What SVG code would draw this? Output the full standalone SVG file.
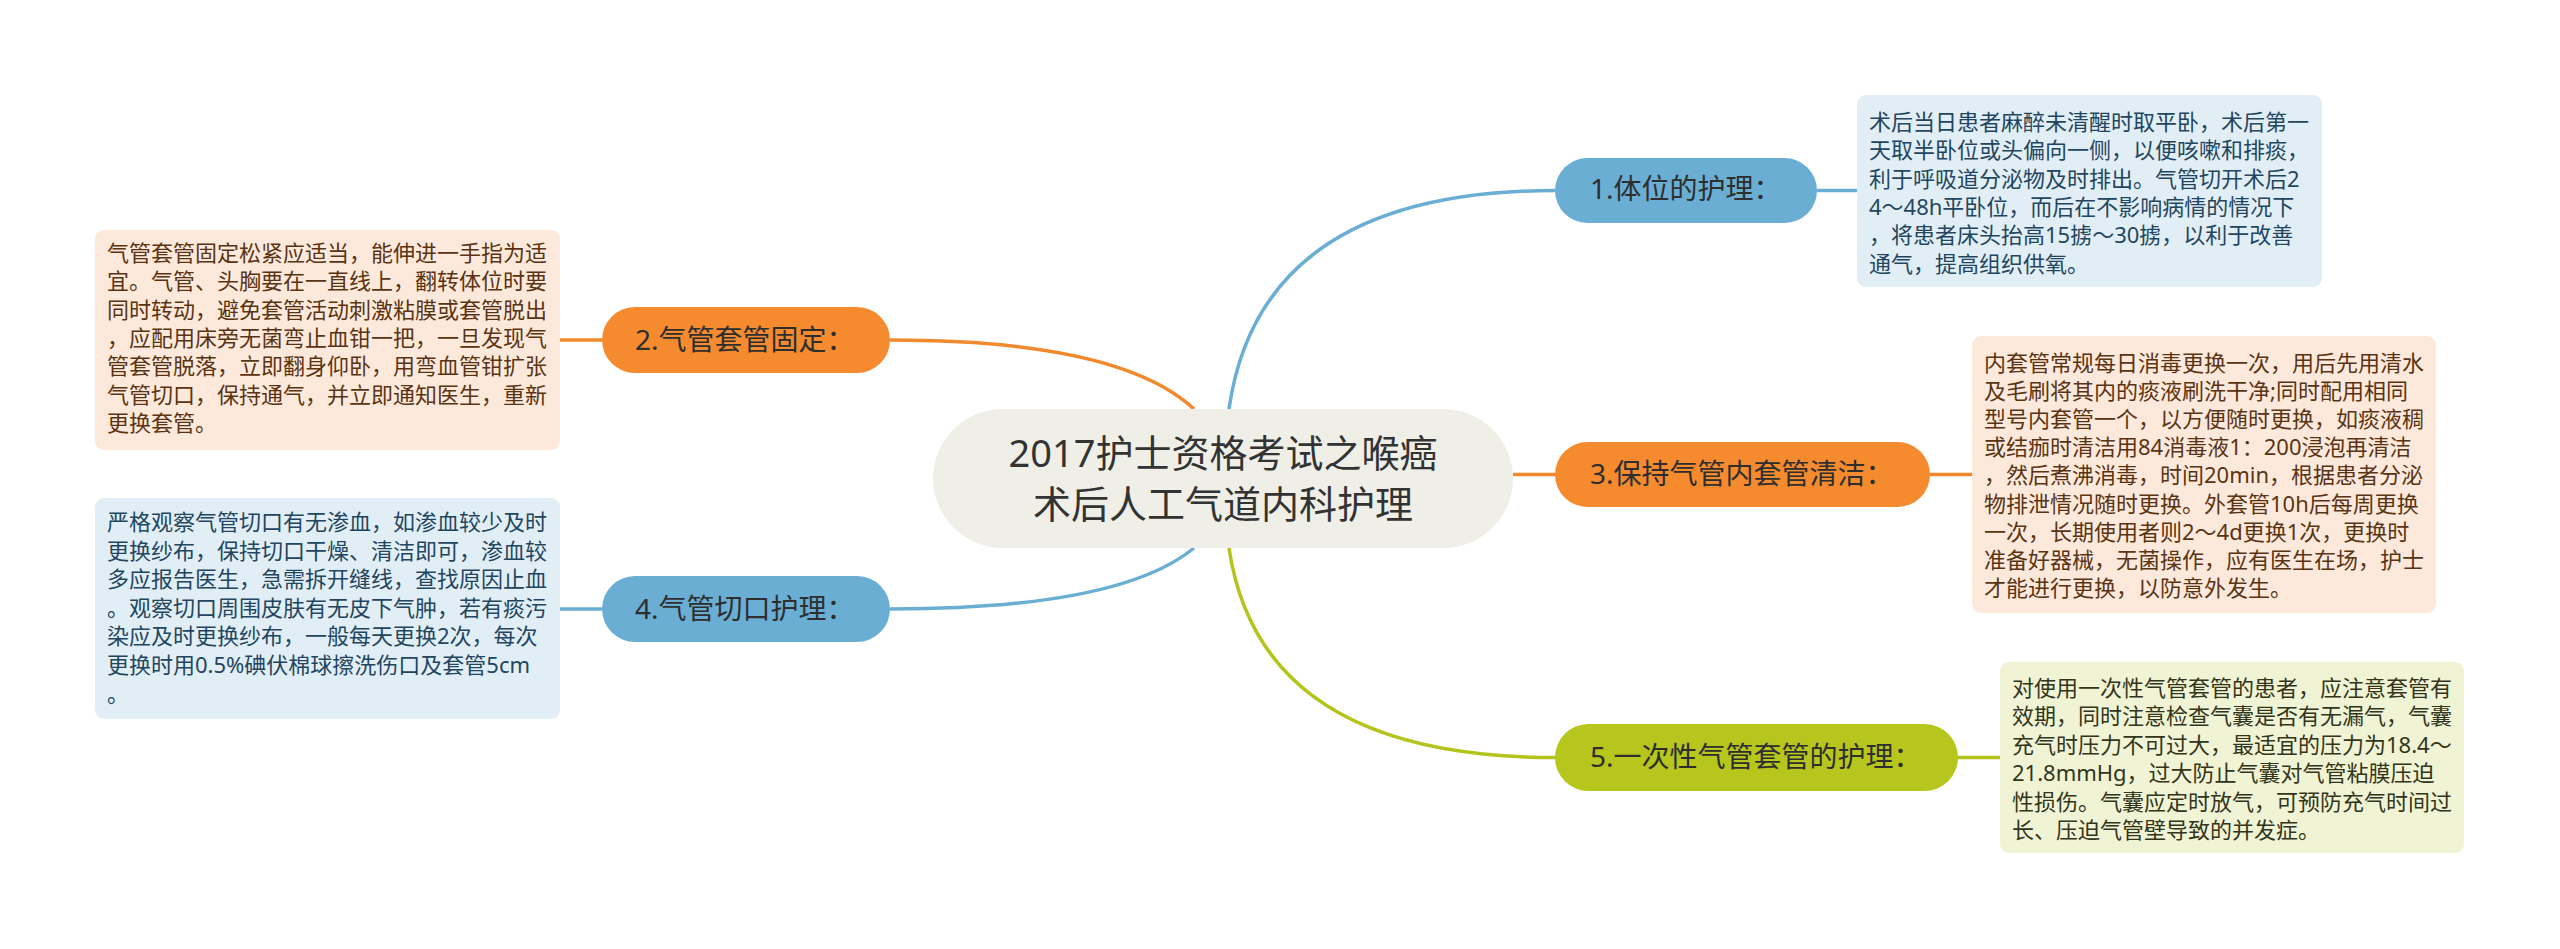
<svg xmlns="http://www.w3.org/2000/svg" width="2560" height="949" viewBox="0 0 2560 949">
<style>
.t{font-family:"Noto Sans","Noto Sans CJK SC",sans-serif;}
.c{font-size:38px;fill:#333333;}
.n{font-size:28px;fill:#2e2e2e;}
.b{font-size:22px;}
.blue-t{fill:#22465f;}
.org-t{fill:#5a3412;}
.olv-t{fill:#33351a;}
.lb{stroke:#6aafd3;}
.lo{stroke:#f08a2d;}
.lg{stroke:#b5c41d;}
.conn path,.conn line{fill:none;stroke-width:3.5;}
</style>
<rect width="2560" height="949" fill="#ffffff"/>
<g id="connectors" class="conn">
<path class="lb" d="M1229,409 Q1260,190.5 1555,190.5"/>
<line class="lo" x1="1513" y1="474.5" x2="1555" y2="474.5"/>
<path class="lg" d="M1229,548 Q1260,757.5 1555,757.5"/>
<path class="lo" d="M1194,409 Q1120,340 890,340"/>
<path class="lb" d="M1194,548 Q1120,609 890,609"/>
<line class="lb" x1="1817" y1="190.5" x2="1857" y2="190.5"/>
<line class="lo" x1="1930" y1="474.5" x2="1972" y2="474.5"/>
<line class="lg" x1="1958" y1="757.5" x2="2000" y2="757.5"/>
<line class="lo" x1="602" y1="340" x2="560" y2="340"/>
<line class="lb" x1="602" y1="609" x2="560" y2="609"/>
</g>
<g id="center">
<rect x="933" y="409" width="580" height="139" rx="70" fill="#efefe7"/>
<text class="t c" text-anchor="middle" x="1223" y="467">2017护士资格考试之喉癌</text>
<text class="t c" text-anchor="middle" x="1223" y="518">术后人工气道内科护理</text>
</g>
<g id="node1">
<rect x="1555" y="158" width="262" height="65" rx="32.5" fill="#6aafd3"/>
<text class="t n" x="1590" y="199">1.体位的护理：</text>
</g>
<g id="node3">
<rect x="1555" y="442" width="375" height="65" rx="32.5" fill="#f58a2e"/>
<text class="t n" x="1590" y="484">3.保持气管内套管清洁：</text>
</g>
<g id="node5">
<rect x="1555" y="724" width="403" height="67" rx="33.5" fill="#b6c61c"/>
<text class="t n" x="1590" y="767">5.一次性气管套管的护理：</text>
</g>
<g id="node2">
<rect x="602" y="307" width="288" height="66" rx="33" fill="#f58a2e"/>
<text class="t n" x="635" y="350">2.气管套管固定：</text>
</g>
<g id="node4">
<rect x="602" y="576" width="288" height="66" rx="33" fill="#6aafd3"/>
<text class="t n" x="635" y="619">4.气管切口护理：</text>
</g>
<g id="detail1">
<rect x="1857" y="95" width="465" height="192" rx="9" fill="#e2eef6"/>
<text class="t b blue-t" x="1869" y="130">
<tspan x="1869" dy="0">术后当日患者麻醉未清醒时取平卧，术后第一</tspan>
<tspan x="1869" dy="28.3">天取半卧位或头偏向一侧，以便咳嗽和排痰，</tspan>
<tspan x="1869" dy="28.3">利于呼吸道分泌物及时排出。气管切开术后2</tspan>
<tspan x="1869" dy="28.3">4～48h平卧位，而后在不影响病情的情况下</tspan>
<tspan x="1869" dy="28.3">，将患者床头抬高15掳～30掳，以利于改善</tspan>
<tspan x="1869" dy="28.3">通气，提高组织供氧。</tspan>
</text>
</g>
<g id="detail3">
<rect x="1972" y="336" width="464" height="277" rx="9" fill="#fde9db"/>
<text class="t b org-t" x="1984" y="371">
<tspan x="1984" dy="0">内套管常规每日消毒更换一次，用后先用清水</tspan>
<tspan x="1984" dy="28.1">及毛刷将其内的痰液刷洗干净;同时配用相同</tspan>
<tspan x="1984" dy="28.1">型号内套管一个，以方便随时更换，如痰液稠</tspan>
<tspan x="1984" dy="28.1">或结痂时清洁用84消毒液1：200浸泡再清洁</tspan>
<tspan x="1984" dy="28.1">，然后煮沸消毒，时间20min，根据患者分泌</tspan>
<tspan x="1984" dy="28.1">物排泄情况随时更换。外套管10h后每周更换</tspan>
<tspan x="1984" dy="28.1">一次，长期使用者则2～4d更换1次，更换时</tspan>
<tspan x="1984" dy="28.1">准备好器械，无菌操作，应有医生在场，护士</tspan>
<tspan x="1984" dy="28.1">才能进行更换，以防意外发生。</tspan>
</text>
</g>
<g id="detail5">
<rect x="2000" y="662" width="464" height="191" rx="9" fill="#f0f4d4"/>
<text class="t b olv-t" x="2012" y="696">
<tspan x="2012" dy="0">对使用一次性气管套管的患者，应注意套管有</tspan>
<tspan x="2012" dy="28.4">效期，同时注意检查气囊是否有无漏气，气囊</tspan>
<tspan x="2012" dy="28.4">充气时压力不可过大，最适宜的压力为18.4～</tspan>
<tspan x="2012" dy="28.4">21.8mmHg，过大防止气囊对气管粘膜压迫</tspan>
<tspan x="2012" dy="28.4">性损伤。气囊应定时放气，可预防充气时间过</tspan>
<tspan x="2012" dy="28.4">长、压迫气管壁导致的并发症。</tspan>
</text>
</g>
<g id="detail2">
<rect x="95" y="230" width="465" height="220" rx="9" fill="#fde9db"/>
<text class="t b org-t" x="107" y="261">
<tspan x="107" dy="0">气管套管固定松紧应适当，能伸进一手指为适</tspan>
<tspan x="107" dy="28.3">宜。气管、头胸要在一直线上，翻转体位时要</tspan>
<tspan x="107" dy="28.3">同时转动，避免套管活动刺激粘膜或套管脱出</tspan>
<tspan x="107" dy="28.3">，应配用床旁无菌弯止血钳一把，一旦发现气</tspan>
<tspan x="107" dy="28.3">管套管脱落，立即翻身仰卧，用弯血管钳扩张</tspan>
<tspan x="107" dy="28.3">气管切口，保持通气，并立即通知医生，重新</tspan>
<tspan x="107" dy="28.3">更换套管。</tspan>
</text>
</g>
<g id="detail4">
<rect x="95" y="498" width="465" height="221" rx="9" fill="#e2eef6"/>
<text class="t b blue-t" x="107" y="530">
<tspan x="107" dy="0">严格观察气管切口有无渗血，如渗血较少及时</tspan>
<tspan x="107" dy="28.6">更换纱布，保持切口干燥、清洁即可，渗血较</tspan>
<tspan x="107" dy="28.6">多应报告医生，急需拆开缝线，查找原因止血</tspan>
<tspan x="107" dy="28.6">。观察切口周围皮肤有无皮下气肿，若有痰污</tspan>
<tspan x="107" dy="28.6">染应及时更换纱布，一般每天更换2次，每次</tspan>
<tspan x="107" dy="28.6">更换时用0.5%碘伏棉球擦洗伤口及套管5cm</tspan>
<tspan x="107" dy="28.6">。</tspan>
</text>
</g>
</svg>
